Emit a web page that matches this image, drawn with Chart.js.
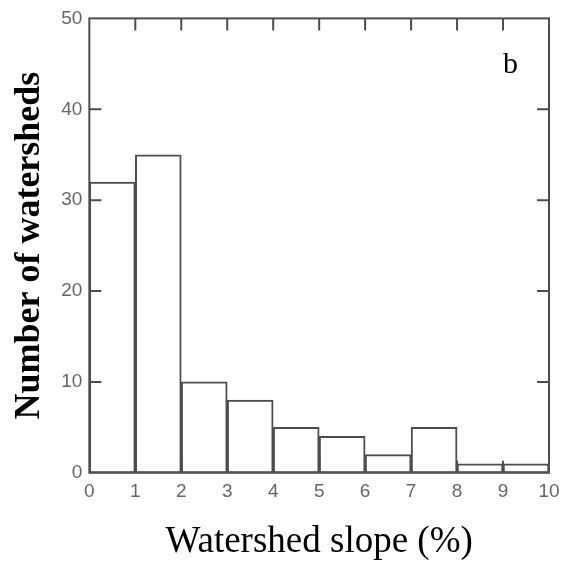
<!DOCTYPE html>
<html>
<head>
<meta charset="utf-8">
<script src="https://cdn.jsdelivr.net/npm/chart.js@4"></script>
<style>
    html, body { margin: 0; padding: 0; background: #fff; }
    #wrap { width: 569px; height: 568px; }
</style>
</head>
<body>
<div id="wrap"><canvas id="histChart" width="569" height="568"></canvas></div>
<script>
// histogram bins (slope %) and counts
const binEdges = [0, 1, 2, 3, 4, 5, 6, 7, 8, 9, 10];
const counts = [32, 35, 10, 8, 5, 4, 2, 5, 1, 1];
const yTicks = [0, 10, 20, 30, 40, 50];
const panelLabel = 'b';

const lineColor = '#4d4d4d';
const tickColor = '#666';

// bar centres from bin edges
const points = counts.map((c, i) => ({ x: (binEdges[i] + binEdges[i + 1]) / 2, y: c }));

// frame + inward ticks on all four sides
const framePlugin = {
    id: 'frame',
    afterDraw(chart) {
        const { ctx, chartArea: a, scales } = chart;
        const len = 12;
        ctx.save();
        ctx.strokeStyle = lineColor;
        ctx.lineWidth = 2;
        ctx.strokeRect(a.left, a.top, a.right - a.left, a.bottom - a.top);
        ctx.beginPath();
        binEdges.slice(1, -1).forEach(v => {
            const px = scales.x.getPixelForValue(v);
            ctx.moveTo(px, a.top); ctx.lineTo(px, a.top + len);
            ctx.moveTo(px, a.bottom); ctx.lineTo(px, a.bottom - len);
        });
        yTicks.slice(1, -1).forEach(v => {
            const py = scales.y.getPixelForValue(v);
            ctx.moveTo(a.left, py); ctx.lineTo(a.left + len, py);
            ctx.moveTo(a.right, py); ctx.lineTo(a.right - len, py);
        });
        ctx.stroke();

        ctx.fillStyle = '#000';
        ctx.font = '30px "Liberation Serif"';
        ctx.textAlign = 'left';
        ctx.textBaseline = 'alphabetic';
        ctx.fillText(panelLabel, a.right - 46, a.top + 55);
        ctx.restore();
    }
};

const ctx = document.getElementById('histChart').getContext('2d');
new Chart(ctx, {
    type: 'bar',
    data: {
        datasets: [{
            data: points,
            backgroundColor: '#fff',
            borderColor: lineColor,
            borderWidth: 2,
            borderSkipped: false,
            barPercentage: 1,
            categoryPercentage: 1
        }]
    },
    options: {
        responsive: false,
        animation: false,
        layout: { padding: { left: 2, right: 20, top: 17, bottom: 0 } },
        plugins: { legend: { display: false }, tooltip: { enabled: false } },
        scales: {
            x: {
                type: 'linear',
                min: 0,
                max: 10,
                offset: false,
                grid: { display: false, drawTicks: false },
                border: { display: false },
                ticks: {
                    stepSize: 1,
                    padding: 8,
                    color: tickColor,
                    font: { family: '"Liberation Sans"', size: 19 },
                    maxRotation: 0
                },
                title: {
                    display: true,
                    text: 'Watershed slope (%)',
                    color: '#000',
                    font: { family: '"Liberation Serif"', size: 37 },
                    padding: { top: 8, bottom: 4 }
                }
            },
            y: {
                min: 0,
                max: 50,
                grid: { display: false, drawTicks: false },
                border: { display: false },
                ticks: {
                    stepSize: 10,
                    padding: 7,
                    color: tickColor,
                    font: { family: '"Liberation Sans"', size: 19 }
                },
                title: {
                    display: true,
                    text: 'Number of watersheds',
                    color: '#000',
                    font: { family: '"Liberation Serif"', size: 36, weight: 'bold' },
                    padding: { top: 6, bottom: 3 }
                }
            }
        }
    },
    plugins: [framePlugin]
});
</script>
</body>
</html>
